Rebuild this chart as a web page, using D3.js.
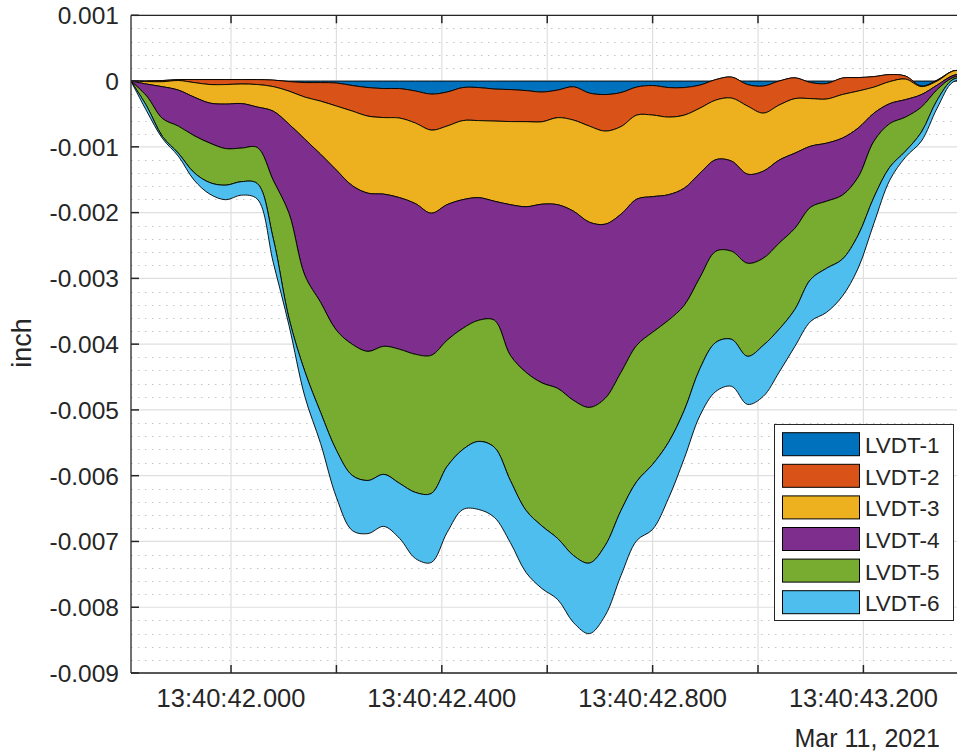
<!DOCTYPE html>
<html>
<head>
<meta charset="utf-8">
<script src="https://cdn.jsdelivr.net/npm/d3@7"></script>
<style>
  html, body { margin: 0; padding: 0; background: #fff; }
  svg { display: block; }
  text { font-family: "Liberation Sans", Arial, Helvetica, sans-serif; fill: #262626; }
</style>
</head>
<body>
<svg id="chart" width="957" height="752"></svg>
<script>
// ---- data ----
// seconds within minute 13:40 (Mar 11, 2021)
const seconds = [41.81, 41.84, 41.87, 41.90, 41.93, 41.96, 41.99, 42.02, 42.05, 42.08,
  42.11, 42.14, 42.17, 42.20, 42.23, 42.26, 42.29, 42.32, 42.35, 42.38,
  42.41, 42.44, 42.47, 42.50, 42.53, 42.56, 42.59, 42.62, 42.65, 42.68,
  42.71, 42.74, 42.77, 42.80, 42.83, 42.86, 42.89, 42.92, 42.95, 42.98,
  43.01, 43.04, 43.07, 43.10, 43.13, 43.16, 43.19, 43.22, 43.25, 43.28,
  43.31, 43.34, 43.37, 43.40];

const seriesNames = ["LVDT-1", "LVDT-2", "LVDT-3", "LVDT-4", "LVDT-5", "LVDT-6"];

const lvdt1 = [0, 0, 0.000008, 0.000023, 0.000023, 0.000023, 0.000023, 0.000023, 0.000023, 0.000015,
  -0.000008, -0.000023, -0.000023, -0.000030, -0.000068, -0.000099, -0.000114, -0.000114, -0.000152, -0.000198,
  -0.000167, -0.000099, -0.000099, -0.000122, -0.000129, -0.000145, -0.000167, -0.000137, -0.000087, -0.000183,
  -0.000205, -0.000175, -0.000091, -0.000068, -0.000099, -0.000099, -0.000061, 0.000023, 0.000061, -0.000053,
  -0.000076, 0, 0.000050, -0.000023, -0.000038, 0.000046, 0.000053, 0.000068, 0.000099, 0.000076,
  -0.000076, 0.000015, 0.000152, 0.000160];

const lvdt2 = [0, -0.000008, -0.000018, -0.000015, -0.000046, -0.000076, -0.000076, -0.000068, -0.000076, -0.000099,
  -0.000145, -0.000221, -0.000282, -0.000350, -0.000388, -0.000434, -0.000441, -0.000449, -0.000487, -0.000548,
  -0.000517, -0.000502, -0.000502, -0.000487, -0.000487, -0.000472, -0.000452, -0.000419, -0.000507, -0.000502,
  -0.000556, -0.000517, -0.000426, -0.000449, -0.000449, -0.000419, -0.000350, -0.000312, -0.000320, -0.000327,
  -0.000411, -0.000365, -0.000317, -0.000244, -0.000236, -0.000251, -0.000205, -0.000160, -0.000107, -0.000046,
  -0.000008, -0.000015, 0, 0];

const lvdt3 = [0, -0.000038, -0.000076, -0.000145, -0.000221, -0.000282, -0.000297, -0.000297, -0.000342, -0.000373,
  -0.000502, -0.000639, -0.000807, -0.000974, -0.001134, -0.001172, -0.001164, -0.001210, -0.001225, -0.001263,
  -0.001195, -0.001202, -0.001172, -0.001218, -0.001263, -0.001294, -0.001253, -0.001324, -0.001385, -0.001461,
  -0.001415, -0.001332, -0.001278, -0.001240, -0.001180, -0.001111, -0.000989, -0.000906, -0.000959, -0.001035,
  -0.000883, -0.000837, -0.000829, -0.000723, -0.000670, -0.000662, -0.000563, -0.000396, -0.000335, -0.000312,
  -0.000122, -0.000061, -0.000068, -0.000038];

const lvdt4 = [0, -0.000183, -0.000484, -0.000548, -0.000586, -0.000609, -0.000677, -0.000677, -0.000616, -0.001050,
  -0.001355, -0.002070, -0.002253, -0.002435, -0.002412, -0.002405, -0.002313, -0.002306, -0.002291, -0.002161,
  -0.002062, -0.001956, -0.001864, -0.001811, -0.002291, -0.002519, -0.002717, -0.002793, -0.002877, -0.002816,
  -0.002648, -0.002405, -0.002222, -0.002062, -0.001910, -0.001781, -0.001583, -0.001393, -0.001370, -0.001355,
  -0.001324, -0.001263, -0.001142, -0.000928, -0.000883, -0.000868, -0.000746, -0.000426, -0.000304, -0.000266,
  -0.000190, -0.000068, -0.000030, -0.000030];

const lvdt5 = [0, -0.000152, -0.000274, -0.000411, -0.000563, -0.000601, -0.000556, -0.000510, -0.000548, -0.000883,
  -0.001598, -0.001461, -0.001674, -0.001826, -0.001994, -0.001963, -0.001948, -0.002039, -0.002100, -0.002100,
  -0.001918, -0.001842, -0.001842, -0.001933, -0.001903, -0.002100, -0.002176, -0.002283, -0.002359, -0.002367,
  -0.002237, -0.002100, -0.002070, -0.002009, -0.001857, -0.001598, -0.001385, -0.001385, -0.001339, -0.001415,
  -0.001324, -0.001309, -0.001233, -0.001096, -0.001020, -0.000974, -0.000883, -0.000852, -0.000662, -0.000517,
  -0.000381, -0.000160, -0.000030, -0.000030];

const lvdt6 = [0, -0.000076, -0.000030, -0.000046, -0.000114, -0.000175, -0.000221, -0.000205, -0.000236, -0.000365,
  -0.000107, -0.000381, -0.000472, -0.000715, -0.000837, -0.000807, -0.000791, -0.000837, -0.001005, -0.001050,
  -0.001005, -0.000913, -0.001035, -0.001065, -0.000944, -0.000944, -0.000951, -0.000928, -0.001020, -0.001073,
  -0.001065, -0.000989, -0.000898, -0.000989, -0.000852, -0.000731, -0.000715, -0.000746, -0.000715, -0.000731,
  -0.000776, -0.000654, -0.000563, -0.000639, -0.000670, -0.000563, -0.000502, -0.000396, -0.000198, -0.000091,
  -0.000137, -0.000122, -0.000038, -0.000046];

const seriesColors = ["#0072BD", "#D95319", "#EDB120", "#7E2F8E", "#77AC30", "#4DBEEE"];

const yTicks = [0.001, 0, -0.001, -0.002, -0.003, -0.004, -0.005, -0.006, -0.007, -0.008, -0.009];
const yTickLabels = ["0.001", "0", "-0.001", "-0.002", "-0.003", "-0.004", "-0.005", "-0.006", "-0.007", "-0.008", "-0.009"];
const yMinorStep = 0.0002;

const xTicks = [42.0, 42.2, 42.4, 42.6, 42.8, 43.0, 43.2];
const xTickLabels = ["13:40:42.000", "", "13:40:42.400", "", "13:40:42.800", "", "13:40:43.200"];
const dateLabel = "Mar 11, 2021";
const yAxisLabel = "inch";

// ---- table for d3.stack ----
const seriesValues = [lvdt1, lvdt2, lvdt3, lvdt4, lvdt5, lvdt6];
const table = seconds.map((s, i) => {
  const row = { t: s };
  seriesNames.forEach((n, j) => { row[n] = seriesValues[j][i]; });
  return row;
});

// ---- layout ----
const W = 957, H = 752;
const plot = { left: 131, top: 15.3, right: 968.8, bottom: 673 };

const svg = d3.select("#chart");
svg.append("rect").attr("width", W).attr("height", H).attr("fill", "#fff");

const x = d3.scaleLinear().domain([41.81, 43.40]).range([130.9, 968.8]);
const y = d3.scaleLinear().domain([-0.009, 0.001]).range([plot.bottom, plot.top]);

svg.append("defs").append("clipPath").attr("id", "clip")
  .append("rect")
  .attr("x", plot.left).attr("y", plot.top)
  .attr("width", plot.right - plot.left).attr("height", plot.bottom - plot.top);

// ---- grid ----
const grid = svg.append("g");
const minorVals = d3.range(-0.009, 0.001 + 1e-9, yMinorStep)
  .filter(v => Math.abs(Math.round(v / 0.001) * 0.001 - v) > 1e-7);
grid.selectAll("line.minor").data(minorVals).join("line")
  .attr("x1", plot.left).attr("x2", W)
  .attr("y1", d => Math.round(y(d)) + 0.5).attr("y2", d => Math.round(y(d)) + 0.5)
  .attr("stroke", "#c4c4c4").attr("stroke-width", 1)
  .attr("stroke-dasharray", "1.5,5.5");
grid.selectAll("line.ymaj").data(yTicks).join("line")
  .attr("x1", plot.left).attr("x2", W)
  .attr("y1", d => y(d)).attr("y2", d => y(d))
  .attr("stroke", "#dfdfdf").attr("stroke-width", 1.2);
grid.selectAll("line.xmaj").data(xTicks).join("line")
  .attr("x1", d => x(d)).attr("x2", d => x(d))
  .attr("y1", plot.top).attr("y2", plot.bottom)
  .attr("stroke", "#dfdfdf").attr("stroke-width", 1.2);

// ---- stacked areas ----
const stack = d3.stack().keys(seriesNames)
  .order(d3.stackOrderNone).offset(d3.stackOffsetNone);
const layers = stack(table);

const area = d3.area()
  .x(d => x(d.data.t))
  .y0(d => y(d[0]))
  .y1(d => y(d[1]))
  .curve(d3.curveCatmullRom.alpha(0.5));

svg.append("g").attr("clip-path", "url(#clip)")
  .selectAll("path").data(layers).join("path")
  .attr("d", area)
  .attr("fill", (d, i) => seriesColors[i])
  .attr("stroke", "#000")
  .attr("stroke-width", 0.9)
  .attr("stroke-linejoin", "round");

// ---- axes ----
const axisColor = "#262626";
const ax = svg.append("g");
ax.append("line").attr("x1", plot.left).attr("x2", plot.left)
  .attr("y1", plot.top).attr("y2", plot.bottom)
  .attr("stroke", axisColor).attr("stroke-width", 1.3);
ax.append("line").attr("x1", plot.left).attr("x2", W)
  .attr("y1", plot.top).attr("y2", plot.top)
  .attr("stroke", axisColor).attr("stroke-width", 1.3);
ax.append("line").attr("x1", plot.left).attr("x2", W)
  .attr("y1", plot.bottom).attr("y2", plot.bottom)
  .attr("stroke", axisColor).attr("stroke-width", 1.3);

ax.selectAll("line.yt").data(yTicks).join("line")
  .attr("x1", plot.left).attr("x2", plot.left + 8)
  .attr("y1", d => y(d)).attr("y2", d => y(d))
  .attr("stroke", axisColor).attr("stroke-width", 1.5);
ax.selectAll("text.yl").data(yTicks).join("text")
  .attr("x", 119).attr("y", d => y(d)).attr("dy", "0.36em")
  .attr("text-anchor", "end").attr("font-size", 24.5)
  .text((d, i) => yTickLabels[i]);

ax.selectAll("line.xtb").data(xTicks).join("line")
  .attr("x1", d => x(d)).attr("x2", d => x(d))
  .attr("y1", plot.bottom).attr("y2", plot.bottom - 8)
  .attr("stroke", axisColor).attr("stroke-width", 1.5);
ax.selectAll("line.xtt").data(xTicks).join("line")
  .attr("x1", d => x(d)).attr("x2", d => x(d))
  .attr("y1", plot.top).attr("y2", plot.top + 8)
  .attr("stroke", axisColor).attr("stroke-width", 1.5);
ax.selectAll("text.xl").data(xTicks).join("text")
  .attr("x", d => x(d)).attr("y", 707)
  .attr("text-anchor", "middle").attr("font-size", 25.5)
  .text((d, i) => xTickLabels[i]);

svg.append("text").attr("x", 940).attr("y", 747)
  .attr("text-anchor", "end").attr("font-size", 25)
  .text(dateLabel);

svg.append("text")
  .attr("transform", "translate(31,343) rotate(-90)")
  .attr("text-anchor", "middle").attr("font-size", 27)
  .text(yAxisLabel);

// ---- legend ----
const lg = svg.append("g");
lg.append("rect").attr("x", 774.5).attr("y", 424.5).attr("width", 179).attr("height", 196)
  .attr("fill", "#fff").attr("stroke", axisColor).attr("stroke-width", 1);
const item = lg.selectAll("g.item").data(seriesNames).join("g")
  .attr("transform", (d, i) => `translate(0, ${432.7 + i * 31.6})`);
item.append("rect").attr("x", 782.5).attr("y", 0).attr("width", 77).attr("height", 23)
  .attr("fill", (d, i) => seriesColors[i]).attr("stroke", "#000").attr("stroke-width", 1);
item.append("text").attr("x", 865).attr("y", 20.5).attr("font-size", 22.5)
  .text(d => d);
</script>
</body>
</html>
